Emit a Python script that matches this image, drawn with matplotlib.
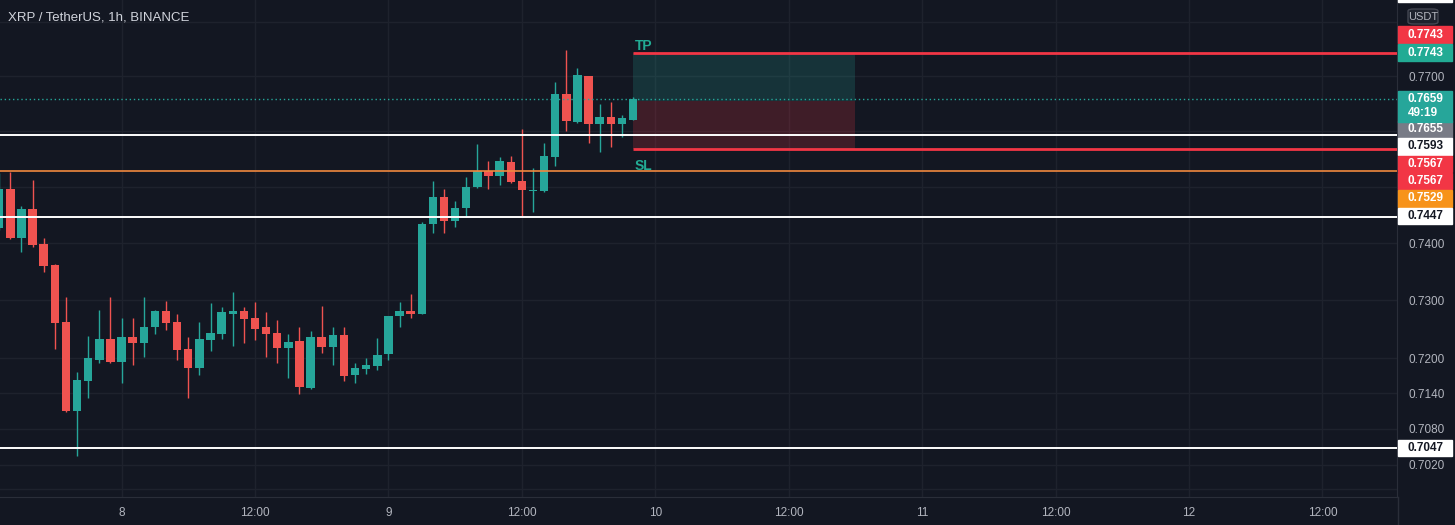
import matplotlib.pyplot as plt
from matplotlib.patches import Rectangle, FancyBboxPatch
from matplotlib.lines import Line2D
from matplotlib.ticker import NullLocator, NullFormatter

plt.rcParams['font.family'] = ['Liberation Sans', 'DejaVu Sans']

# hourly candles, x = hours since day 8 00:00
hours = list(range(-11, 47))
opens = [0.7427, 0.7496, 0.7409, 0.7460, 0.7398, 0.7361, 0.7263, 0.7110, 0.7161, 0.7197,
         0.7233, 0.7193, 0.7237, 0.7226, 0.7254, 0.7282, 0.7263, 0.7216, 0.7183, 0.7232,
         0.7242, 0.7277, 0.7282, 0.7270, 0.7253, 0.7244, 0.7218, 0.7230, 0.7149, 0.7237,
         0.7219, 0.7240, 0.7171, 0.7181, 0.7186, 0.7207, 0.7272, 0.7281, 0.7277, 0.7434,
         0.7482, 0.7439, 0.7462, 0.7499, 0.7528, 0.7519, 0.7544, 0.7510, 0.7492, 0.7492,
         0.7554, 0.7667, 0.7616, 0.7700, 0.7612, 0.7625, 0.7612, 0.7621]
highs = [0.7524, 0.7526, 0.7466, 0.7512, 0.7409, 0.7363, 0.7305, 0.7176, 0.7239, 0.7284,
         0.7305, 0.7270, 0.7270, 0.7305, 0.7284, 0.7298, 0.7277, 0.7237, 0.7263, 0.7295,
         0.7288, 0.7314, 0.7288, 0.7297, 0.7279, 0.7265, 0.7242, 0.7253, 0.7247, 0.7290,
         0.7253, 0.7254, 0.7192, 0.7200, 0.7235, 0.7273, 0.7297, 0.7311, 0.7437, 0.7510,
         0.7496, 0.7475, 0.7517, 0.7576, 0.7547, 0.7553, 0.7556, 0.7603, 0.7533, 0.7579,
         0.7689, 0.7748, 0.7715, 0.7701, 0.7649, 0.7652, 0.7630, 0.7662]
lows = [0.7423, 0.7407, 0.7384, 0.7393, 0.7349, 0.7216, 0.7109, 0.7034, 0.7132, 0.7192,
        0.7192, 0.7158, 0.7188, 0.7202, 0.7242, 0.7249, 0.7197, 0.7132, 0.7171, 0.7212,
        0.7233, 0.7221, 0.7226, 0.7232, 0.7202, 0.7192, 0.7166, 0.7139, 0.7148, 0.7209,
        0.7188, 0.7161, 0.7158, 0.7173, 0.7180, 0.7197, 0.7254, 0.7270, 0.7276, 0.7418,
        0.7418, 0.7428, 0.7446, 0.7498, 0.7496, 0.7503, 0.7507, 0.7448, 0.7455, 0.7491,
        0.7538, 0.7601, 0.7615, 0.7579, 0.7562, 0.7572, 0.7590, 0.7620]
closes = [0.7496, 0.7409, 0.7460, 0.7396, 0.7360, 0.7261, 0.7110, 0.7163, 0.7200, 0.7233,
          0.7193, 0.7237, 0.7226, 0.7254, 0.7282, 0.7261, 0.7214, 0.7183, 0.7233, 0.7244,
          0.7279, 0.7282, 0.7267, 0.7251, 0.7242, 0.7218, 0.7228, 0.7151, 0.7237, 0.7219,
          0.7240, 0.7170, 0.7183, 0.7188, 0.7205, 0.7272, 0.7281, 0.7277, 0.7434, 0.7482,
          0.7439, 0.7462, 0.7499, 0.7528, 0.7519, 0.7546, 0.7508, 0.7494, 0.7494, 0.7556,
          0.7667, 0.7618, 0.7702, 0.7612, 0.7625, 0.7612, 0.7623, 0.7659]

day_ticks = list(range(0, 109, 12))
day_labels = ["8", "12:00", "9", "12:00", "10", "12:00", "11", "12:00", "12", "12:00"]

grid_prices = [0.6980, 0.7020, 0.7080, 0.7140, 0.7200, 0.7300, 0.7400,
               0.7500, 0.7600, 0.7700, 0.7800]
tick_prices = [0.7020, 0.7080, 0.7140, 0.7200, 0.7300, 0.7400, 0.7700]

white_levels = [0.7593, 0.7447, 0.7047]
orange_level = 0.7529
entry, target, stop = 0.7655, 0.7743, 0.7567
last_price = 0.7659
box_start, box_end = 46, 66

# price scale labels: text, background, text colour
scale_labels = [
    ("0.7843", "#ffffff", "#131722"),
    ("0.7743", "#f23645", "#ffffff"),
    ("0.7743", "#22ab94", "#ffffff"),
    ("0.7655", "#787b86", "#ffffff"),
    ("0.7593", "#ffffff", "#131722"),
    ("0.7567", "#f23645", "#ffffff"),
    ("0.7567", "#f23645", "#ffffff"),
    ("0.7529", "#f7931a", "#ffffff"),
    ("0.7447", "#ffffff", "#131722"),
    ("0.7047", "#ffffff", "#131722"),
]
label_rows = [-6, 34.5, 52.5, 129.5, 146.5, 164, 181, 198.5, 216, 448]

BG = "#131722"
UP = "#26a69a"
DOWN = "#ef5350"
TXT = "#b2b5be"
W, H = 1455, 525


def fx(px):
    return px / W


def fy(py):
    return 1 - py / H


fig = plt.figure(figsize=(W / 100, H / 100), dpi=100, facecolor=BG)
ax = fig.add_axes([0, 28 / H, 1397 / W, 497 / H], facecolor=BG)
ax.set_yscale("log")

colors = [UP if c >= o else DOWN for o, c in zip(opens, closes)]
ax.vlines(hours, lows, highs, colors=colors, lw=1, zorder=3)
bottoms = [min(o, c) for o, c in zip(opens, closes)]
heights = [max(abs(c - o), 0.00012) for o, c in zip(opens, closes)]
ax.bar(hours, heights, bottom=bottoms, width=0.76, color=colors, zorder=4)

# levels
for lv in white_levels:
    ax.axhline(lv, color="#ffffff", lw=1.4, zorder=5)
ax.axhline(orange_level, color="#f0883e", lw=1.2, zorder=5)

xmax = 114.7
ax.hlines([target, stop], box_start, xmax, color="#f23645", lw=2, zorder=5)

# long position box
ax.fill_between([box_start, box_end], entry, target, color=UP, alpha=0.2, lw=0, zorder=2)
ax.fill_between([box_start, box_end], stop, entry, color="#f23645", alpha=0.2, lw=0, zorder=2)
ax.axhline(last_price, color=UP, lw=1, ls=(0, (1, 2)), zorder=5)

ax.annotate("TP", (box_start, target), xytext=(1, 0), textcoords="offset points",
            va="bottom", ha="left", color="#22ab94", fontsize=10, fontweight="bold", zorder=6)
ax.annotate("SL", (box_start, stop), xytext=(1, -7), textcoords="offset points",
            va="top", ha="left", color="#22ab94", fontsize=10, fontweight="bold", zorder=6)

ax.set_xlim(-10.93, xmax)
ax.set_ylim(0.6966, 0.7841)

ax.set_xticks(day_ticks, day_labels)
ax.yaxis.tick_right()
ax.yaxis.set_minor_locator(NullLocator())
ax.yaxis.set_minor_formatter(NullFormatter())
ax.set_yticks(grid_prices, [f"{p:.4f}" if p in tick_prices else "" for p in grid_prices])
ax.tick_params(axis="x", colors=TXT, labelsize=8.5, length=0, pad=7)
ax.tick_params(axis="y", colors=TXT, labelsize=8.5, length=0, pad=8.5)
ax.grid(True, color="#1e222d", lw=1, zorder=0)
for s in ("top", "left"):
    ax.spines[s].set_visible(False)
for s in ("bottom", "right"):
    ax.spines[s].set_color("#2a2e39")
fig.add_artist(Line2D([fx(1397.5), fx(1397.5)], [0, fy(497)], color="#2a2e39", lw=1,
                      transform=fig.transFigure))

# title
fig.text(fx(8), fy(18), "XRP / TetherUS, 1h, BINANCE", color="#d1d4dc", fontsize=9.5,
         va="center", ha="left")

# price scale labels
for (txt, face, fg), row in zip(scale_labels, label_rows):
    fig.add_artist(Rectangle((fx(1398), fy(row + 8.2)), 54 / W, 16.4 / H, color=face,
                             transform=fig.transFigure, zorder=5))
    fig.text(fx(1408), fy(row), txt, color=fg, fontsize=8.5, fontweight="bold",
             va="center", ha="left", zorder=6)

fig.add_artist(Rectangle((fx(1398), fy(122)), 54 / W, 31 / H, color=UP,
                         transform=fig.transFigure, zorder=5))
fig.text(fx(1408), fy(99), f"{last_price:.4f}", color="#ffffff", fontsize=8.5,
         fontweight="bold", va="center", ha="left", zorder=6)
fig.text(fx(1408), fy(113.5), "49:19", color="#ffffff", fontsize=8.5,
         fontweight="bold", va="center", ha="left", zorder=6)

fig.add_artist(FancyBboxPatch((fx(1408), fy(24)), 30 / W, 15 / H,
                              boxstyle="round,pad=0,rounding_size=0.004",
                              facecolor="#1e222d", edgecolor="#434651", lw=1,
                              transform=fig.transFigure, zorder=5))
fig.text(fx(1423), fy(16.5), "USDT", color=TXT, fontsize=8, va="center", ha="center",
         zorder=6)

fig.savefig("out.png", dpi=100, facecolor=BG)
